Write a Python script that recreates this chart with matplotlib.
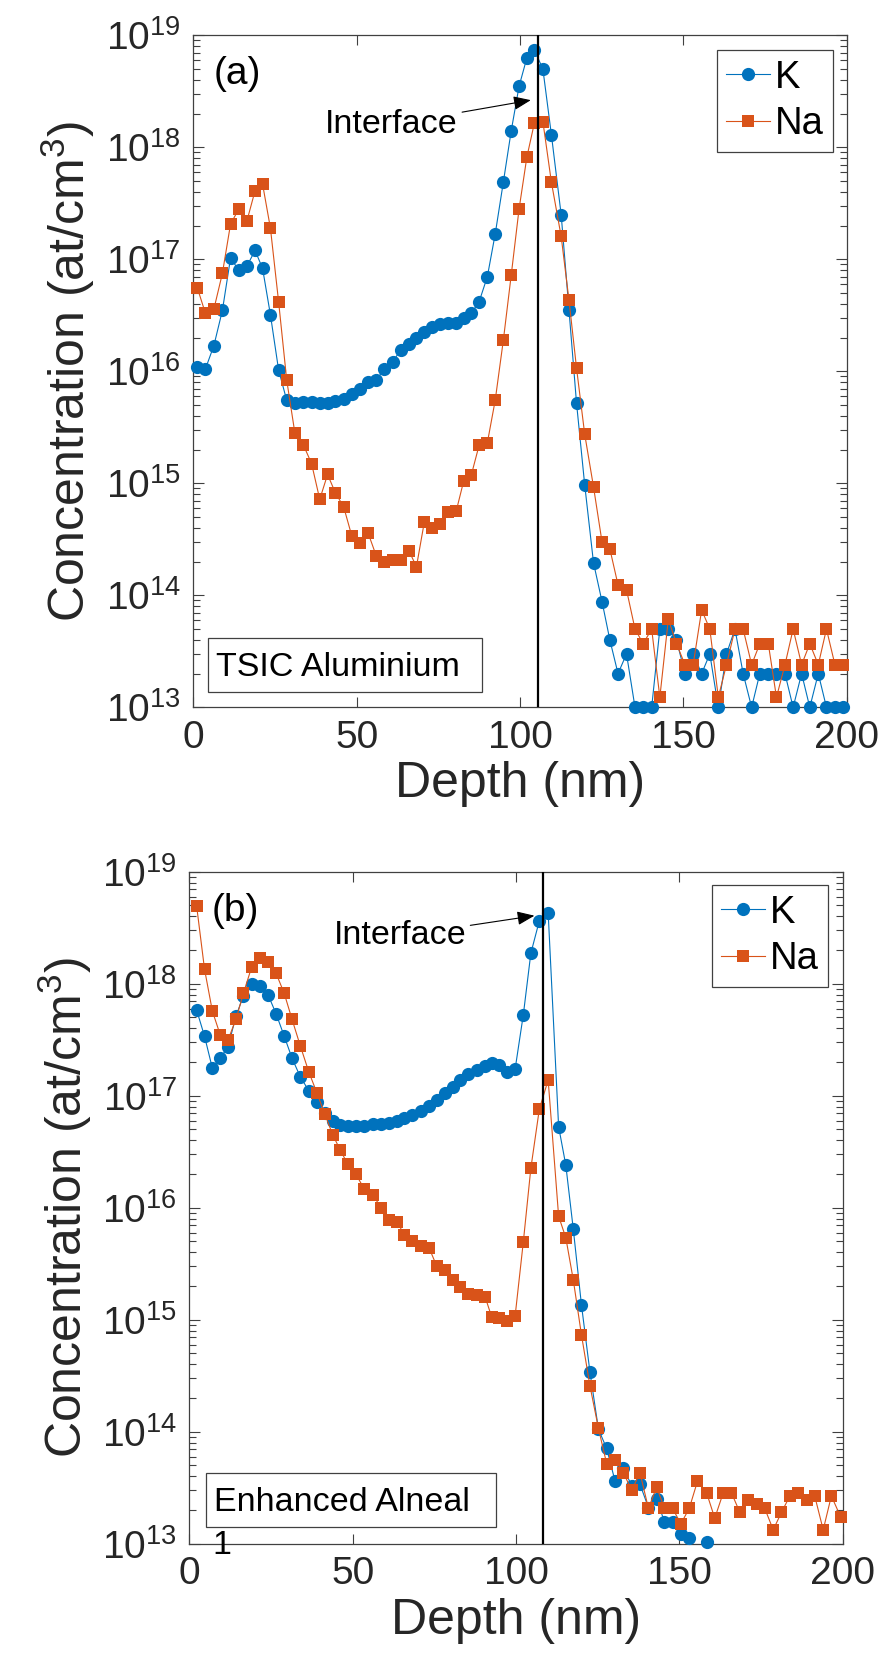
import numpy as np
import matplotlib
matplotlib.use("Agg")
import matplotlib.pyplot as plt
from matplotlib.patches import Rectangle

plt.rcParams['font.family'] = ['Liberation Sans', 'DejaVu Sans']
plt.rcParams['mathtext.fontset'] = 'custom'
plt.rcParams['mathtext.rm'] = 'Liberation Sans'
plt.rcParams['mathtext.it'] = 'Liberation Sans:italic'
plt.rcParams['mathtext.bf'] = 'Liberation Sans:bold'

# ---------------- data: panel (a) TSIC Aluminium ----------------
depth_a = [1.2, 3.7, 6.3, 8.9, 11.4, 13.9, 16.4, 18.9, 21.2, 23.6,
           26.1, 28.6, 31.1, 33.7, 36.2, 38.7, 41.1, 43.5, 46.0, 48.5,
           51.0, 53.5, 56.0, 58.5, 61.0, 63.5, 66.0, 68.3, 70.7, 73.1,
           75.6, 78.0, 80.5, 82.8, 85.1, 87.5, 90.0, 92.4, 94.9, 97.3,
           99.7, 102.1, 104.4, 107.0, 109.6, 112.6, 115.0, 117.3, 119.8, 122.5,
           125.1, 127.5, 130.0, 132.6, 135.2, 137.7, 140.3, 142.8, 145.4, 147.9,
           150.5, 153.0, 155.6, 158.1, 160.7, 163.2, 165.8, 168.3, 170.9, 173.4,
           176.0, 178.5, 181.1, 183.6, 186.2, 188.7, 191.3, 193.8, 196.4, 198.9]
K_a = [1.1e16, 1.05e16, 1.7e16, 3.5e16, 1.03e17, 8.0e16, 8.7e16, 1.2e17, 8.3e16, 3.2e16,
       1.03e16, 5.5e15, 5.2e15, 5.3e15, 5.3e15, 5.2e15, 5.2e15, 5.4e15, 5.7e15, 6.3e15,
       6.9e15, 8.0e15, 8.4e15, 1.05e16, 1.22e16, 1.55e16, 1.75e16, 1.97e16, 2.26e16, 2.5e16,
       2.65e16, 2.7e16, 2.7e16, 3.0e16, 3.3e16, 4.2e16, 7.0e16, 1.68e17, 4.9e17, 1.4e18,
       3.5e18, 6.3e18, 7.4e18, 5.0e18, 1.3e18, 2.5e17, 3.5e16, 5.2e15, 9.7e14, 1.95e14,
       8.8e13, 4.0e13, 2.0e13, 3.0e13, 1e13, 1e13, 1e13, 5e13, 5e13, 4e13,
       2e13, 3e13, 2e13, 3e13, 1e13, 3e13, 5e13, 2e13, 1e13, 2e13,
       2e13, 2e13, 2e13, 1e13, 2e13, 1e13, 2e13, 1e13, 1e13, 1e13]
Na_a = [5.6e16, 3.3e16, 3.6e16, 7.5e16, 2.07e17, 2.8e17, 2.2e17, 4.1e17, 4.7e17, 1.9e17,
        4.2e16, 8.3e15, 2.8e15, 2.2e15, 1.5e15, 7.2e14, 1.2e15, 8.2e14, 6.2e14, 3.4e14,
        2.95e14, 3.6e14, 2.25e14, 2.0e14, 2.07e14, 2.07e14, 2.5e14, 1.8e14, 4.5e14, 4.0e14,
        4.3e14, 5.6e14, 5.7e14, 1.06e15, 1.19e15, 2.2e15, 2.3e15, 5.5e15, 1.9e16, 7.2e16,
        2.8e17, 8.2e17, 1.65e18, 1.7e18, 4.9e17, 1.6e17, 4.3e16, 1.07e16, 2.75e15, 9.3e14,
        3.0e14, 2.6e14, 1.24e14, 1.12e14, 5e13, 3.7e13, 5e13, 1.23e13, 6.1e13, 3.7e13,
        2.4e13, 2.4e13, 7.4e13, 5e13, 1.23e13, 2.4e13, 5e13, 5e13, 2.4e13, 3.7e13,
        3.7e13, 1.23e13, 2.4e13, 5e13, 2.4e13, 3.7e13, 2.4e13, 5e13, 2.4e13, 2.4e13]
interface_a = 105.4

# ---------------- data: panel (b) Enhanced Alneal ----------------
depth_b = [2.2, 4.6, 7.0, 9.4, 11.8, 14.2, 16.5, 19.0, 21.6, 24.1,
           26.5, 29.0, 31.4, 33.9, 36.5, 39.0, 41.4, 43.8, 46.1, 48.4,
           50.9, 53.5, 56.1, 58.7, 61.1, 63.5, 65.8, 68.2, 70.9, 73.4,
           75.7, 78.1, 80.6, 82.8, 85.4, 87.9, 90.5, 92.5, 94.9, 97.1,
           99.7, 102.2, 104.5, 107.1, 109.8, 113.0, 115.2, 117.5, 120.0, 122.6,
           125.2, 127.7, 130.3, 132.8, 135.4, 137.9, 140.5, 143.0, 145.4, 147.9,
           150.4, 153.0, 155.5, 158.3, 160.8, 163.4, 165.9, 168.5, 171.0, 173.6,
           176.1, 178.7, 181.2, 183.8, 186.3, 188.9, 191.4, 194.0, 196.5, 199.4]
nan = float('nan')
K_b = [5.8e17, 3.4e17, 1.76e17, 2.16e17, 2.74e17, 5.1e17, 7.8e17, 1.0e18, 9.5e17, 7.9e17,
       5.4e17, 3.4e17, 2.16e17, 1.48e17, 1.11e17, 8.7e16, 7.0e16, 5.9e16, 5.5e16, 5.4e16,
       5.4e16, 5.4e16, 5.6e16, 5.6e16, 5.7e16, 6.0e16, 6.3e16, 6.7e16, 7.3e16, 8.1e16,
       9.1e16, 1.05e17, 1.2e17, 1.38e17, 1.55e17, 1.7e17, 1.85e17, 1.95e17, 1.9e17, 1.64e17,
       1.74e17, 5.3e17, 1.87e18, 3.65e18, 4.3e18, 5.3e16, 2.4e16, 6.4e15, 1.35e15, 3.4e14,
       1.05e14, 7.1e13, 3.6e13, 4.7e13, 3.3e13, 3.4e13, 2.1e13, 2.5e13, 1.57e13, 1.57e13,
       1.22e13, 1.12e13, nan, 1.04e13, nan, nan, nan, nan, nan, nan,
       nan, nan, nan, nan, nan, nan, nan, nan, nan, nan]
Na_b = [4.9e18, 1.35e18, 5.7e17, 3.5e17, 3.15e17, 4.8e17, 8.2e17, 1.4e18, 1.7e18, 1.57e18,
        1.24e18, 8.2e17, 4.8e17, 2.8e17, 1.64e17, 1.06e17, 6.9e16, 4.5e16, 3.3e16, 2.46e16,
        2.0e16, 1.47e16, 1.3e16, 1.0e16, 7.8e15, 7.5e15, 5.7e15, 5.0e15, 4.55e15, 4.35e15,
        3.0e15, 2.8e15, 2.26e15, 1.97e15, 1.7e15, 1.67e15, 1.6e15, 1.06e15, 1.04e15, 9.8e14,
        1.09e15, 4.97e15, 2.25e16, 7.6e16, 1.38e17, 8.4e15, 5.4e15, 2.26e15, 7.3e14, 2.56e14,
        1.07e14, 5.2e13, 5.6e13, 4.3e13, 3.0e13, 4.3e13, 2.07e13, 3.2e13, 2.07e13, 2.07e13,
        1.5e13, 2.07e13, 3.6e13, 2.85e13, 1.69e13, 2.85e13, 2.85e13, 1.9e13, 2.45e13, 2.26e13,
        2.07e13, 1.33e13, 1.9e13, 2.67e13, 2.85e13, 2.45e13, 2.67e13, 1.33e13, 2.67e13, 1.72e13]
interface_b = 108.2

series_labels = ['K', 'Na']
x_ticks = [0, 50, 100, 150, 200]
panel_tags = ['(a)', '(b)']
sample_names = ['TSIC Aluminium', 'Enhanced Alneal']

# ---------------- styling ----------------
C_K = '#0072BD'
C_NA = '#D95319'
AX_COL = '#404040'
TXT_COL = '#262626'
TICK_FS = 28
LABEL_FS = 36
LEG_FS = 27.5
ANN_FS = 24.5

fig = plt.figure(figsize=(8.88, 16.6), dpi=100)
ax_a = fig.add_axes([0.2177, 0.5739, 0.7358, 0.4048])
ax_b = fig.add_axes([0.2134, 0.07006, 0.7357, 0.4048])


def style_axes(ax):
    ax.set_yscale('log')
    ax.set_xlim(0, 200)
    ax.set_ylim(1e13, 1e19)
    ax.set_xticks(x_ticks)
    ax.set_yticks([1e13, 1e14, 1e15, 1e16, 1e17, 1e18, 1e19])
    for s in ax.spines.values():
        s.set_color(AX_COL)
        s.set_linewidth(0.9)
    ax.tick_params(axis='both', which='both', direction='in', top=True, right=True,
                   color=AX_COL, width=0.8, labelcolor=TXT_COL, labelsize=TICK_FS)
    ax.tick_params(axis='y', which='major', length=8.2, pad=9)
    ax.tick_params(axis='y', which='minor', length=4.8)
    ax.tick_params(axis='x', which='major', length=7, pad=9)
    ax.set_xlabel('Depth (nm)', fontsize=LABEL_FS, color=TXT_COL, labelpad=4)
    ax.set_ylabel('Concentration (at/cm$^{3}$)', fontsize=LABEL_FS, color=TXT_COL, labelpad=6)


def draw_panel(ax, depth, k, na, iface, tag, name, tag_xy, box, text_xy,
               ann_text, ann_tip, leg_anchor):
    style_axes(ax)
    ax.plot(depth, k, '-o', color=C_K, lw=0.8, ms=9.5, mec=C_K, mew=0,
            label=series_labels[0], clip_on=False, zorder=3)
    ax.plot(depth, na, '-s', color=C_NA, lw=0.8, ms=8.2, mec=C_NA, mew=0,
            label=series_labels[1], clip_on=False, zorder=4)
    ax.axvline(iface, color='black', lw=1.6, zorder=5)
    ax.text(tag_xy[0], tag_xy[1], tag, transform=ax.transAxes, fontsize=28,
            ha='center', va='center', color='black')
    x0, y0, x1, y1 = box
    ax.add_patch(Rectangle((x0, y0), x1 - x0, y1 - y0, transform=ax.transAxes,
                           facecolor='white', edgecolor=AX_COL, lw=0.9, zorder=6))
    ax.text(text_xy[0], text_xy[1], name, transform=ax.transAxes, fontsize=ANN_FS,
            ha='left', va='baseline', color='black', zorder=7)
    ax.annotate('Interface', xy=ann_tip, xytext=ann_text, fontsize=ANN_FS,
                ha='right', va='center', color='black',
                arrowprops=dict(arrowstyle='-|>,head_length=0.7,head_width=0.28',
                                mutation_scale=15, color='black', lw=0.8,
                                shrinkA=1, shrinkB=0))
    leg = ax.legend(loc='upper right', bbox_to_anchor=leg_anchor, fontsize=LEG_FS,
                    frameon=True, fancybox=False, framealpha=1, edgecolor=AX_COL,
                    borderaxespad=0, borderpad=0.25, labelspacing=0.28,
                    handlelength=1.15, handletextpad=0.12)
    leg.get_frame().set_linewidth(0.9)
    for t in leg.get_texts():
        t.set_color('black')


draw_panel(ax_a, depth_a, K_a, Na_a, interface_a, panel_tags[0], sample_names[0],
           (0.0677, 0.942), (0.0225, 0.0223, 0.4418, 0.1027), (0.0347, 0.0466),
           (81.0, 1.6e18), (103.3, 2.64e18), (0.9795, 0.978))
draw_panel(ax_b, depth_b, K_b, Na_b, interface_b, panel_tags[1], sample_names[1],
           (0.0704, 0.9418), (0.0248, 0.0244, 0.4692, 0.1057), (0.0375, 0.0491),
           (84.7, 2.67e18), (105.6, 4.05e18), (0.9778, 0.980))

ax_b.text(10, 8.1e12, '1', fontsize=ANN_FS, ha='center', va='baseline',
          color='black', clip_on=False, zorder=8)

fig.savefig('out.png', dpi=100)
